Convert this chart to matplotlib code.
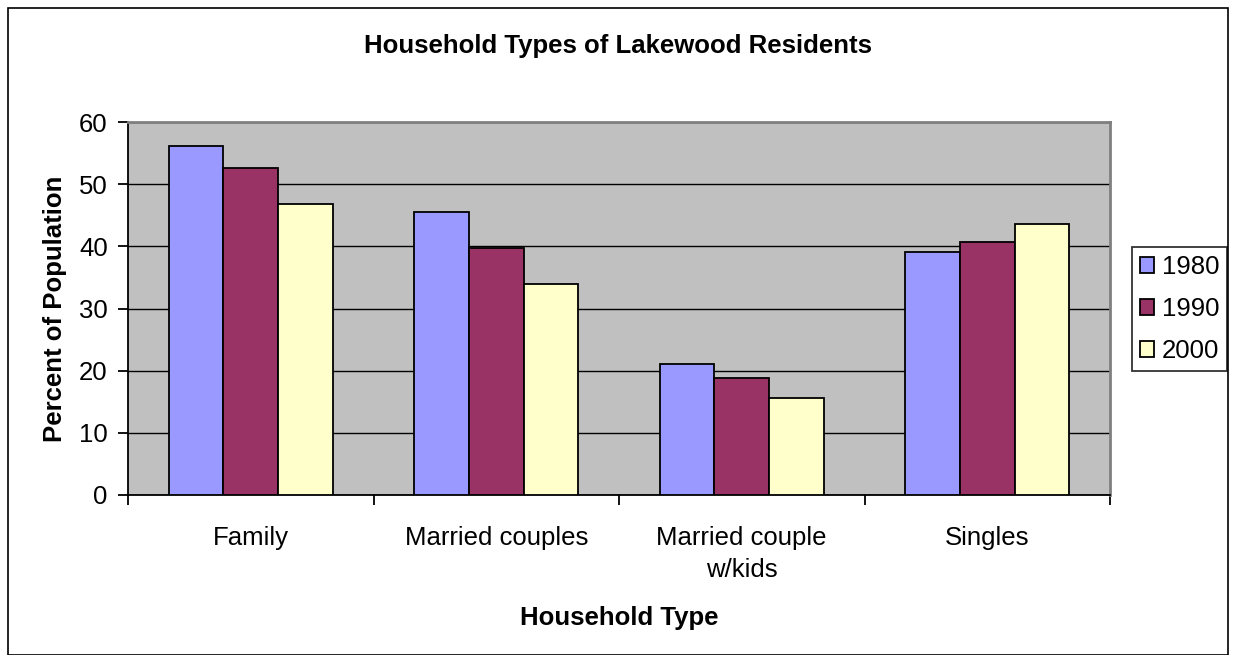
import numpy as np
import matplotlib
matplotlib.use("Agg")
import matplotlib.pyplot as plt
from matplotlib.patches import Rectangle

plt.rcParams['font.family'] = ['Liberation Sans', 'DejaVu Sans']

categories = ["Family", "Married couples", "Married couple\nw/kids", "Singles"]
years = ["1980", "1990", "2000"]
values_1980 = [56.2, 45.5, 21.0, 39.1]
values_1990 = [52.6, 39.7, 18.8, 40.7]
values_2000 = [46.8, 33.9, 15.6, 43.6]
colors = ["#9999FF", "#993366", "#FFFFCC"]

fig = plt.figure(figsize=(12.35, 6.55), dpi=100)
ax = fig.add_axes([128 / 1235, 1 - 495 / 655, 982 / 1235, 373 / 655])

# outer chart border
fig.patches.append(Rectangle((8 / 1235, 0), 1220 / 1235, 647 / 655,
                             transform=fig.transFigure, fill=False,
                             edgecolor="black", linewidth=1.2))

ax.set_facecolor("#C0C0C0")
x = np.arange(len(categories))
w = 1 / 4.5
series = [values_1980, values_1990, values_2000]
for i, vals in enumerate(series):
    ax.bar(x + (i - 1) * w, vals, width=w, color=colors[i],
           edgecolor="black", linewidth=1.3, label=years[i], zorder=3)

ax.set_xlim(-0.5, len(categories) - 0.5)
ax.set_ylim(0, 60)
ax.set_yticks(range(0, 61, 10))
ax.yaxis.grid(True, color="black", linewidth=1, zorder=1)
ax.set_axisbelow(True)

fs = 18.5
ax.set_xticks(x)
ax.set_xticklabels(categories, fontsize=fs, linespacing=1.45)
ax.set_xticks(np.arange(-0.5, len(categories), 1), minor=True)
ax.tick_params(axis="x", which="major", length=0, pad=22)
ax.tick_params(axis="x", which="minor", length=7, width=1.3, direction="out")
ax.tick_params(axis="y", labelsize=fs, length=7, width=1.3, direction="out", pad=7.5)

for s in ["top", "right"]:
    ax.spines[s].set_color("#808080")
    ax.spines[s].set_linewidth(2)
for s in ["left", "bottom"]:
    ax.spines[s].set_color("black")
    ax.spines[s].set_linewidth(1.3)

ax.set_xlabel("Household Type", fontsize=fs, fontweight="bold", labelpad=17)
ax.set_ylabel("Percent of Population", fontsize=fs, fontweight="bold", labelpad=9)
fig.text(0.5, 1 - 46 / 655, "Household Types of Lakewood Residents",
         ha="center", va="center", fontsize=fs, fontweight="bold")

leg = ax.legend(loc="center left", bbox_to_anchor=(1.0224, 0.499), fontsize=fs,
                frameon=True, fancybox=False, edgecolor="black",
                handlelength=0.55, handleheight=0.55, handletextpad=0.3,
                labelspacing=0.7, borderpad=0.3, borderaxespad=0)
leg.get_frame().set_linewidth(1.3)

fig.savefig("out.png", dpi=100)
